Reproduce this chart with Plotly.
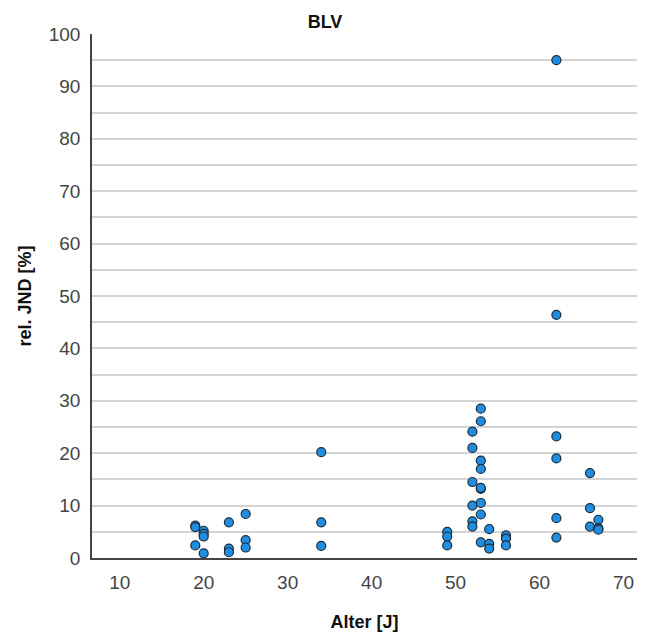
import plotly.graph_objects as go

# Age [years] and relative JND [%] per subject
alter = [19, 19, 19, 20, 20, 20, 20,
         23, 23, 23, 25, 25, 25,
         34, 34, 34,
         49, 49, 49,
         52, 52, 52, 52, 52, 52,
         53, 53, 53, 53, 53, 53, 53, 53, 53,
         54, 54, 54, 56, 56, 56,
         62, 62, 62, 62, 62, 62,
         66, 66, 66, 67, 67, 67]
rel_jnd = [6.2, 5.9, 2.4, 5.2, 4.6, 4.1, 0.9,
           6.8, 1.8, 1.1, 8.4, 3.4, 2.0,
           20.2, 6.8, 2.3,
           5.0, 4.1, 2.4,
           24.1, 21.0, 14.5, 10.0, 7.0, 6.0,
           28.5, 26.1, 18.6, 17.0, 13.2, 10.5, 8.3, 3.0, 13.4,
           5.5, 2.7, 1.8, 4.3, 3.7, 2.4,
           95.0, 46.4, 23.2, 19.0, 7.6, 3.9,
           16.2, 9.5, 6.0, 7.3, 5.7, 5.4]

x_ticks = [10, 20, 30, 40, 50, 60, 70]
y_ticks = [0, 10, 20, 30, 40, 50, 60, 70, 80, 90, 100]

fig = go.Figure(go.Scatter(
    x=alter, y=rel_jnd, mode="markers",
    marker=dict(size=9, color="#1f8de0",
                line=dict(color="#1c2b3a", width=1.2)),
    cliponaxis=False,
))

fig.update_layout(
    width=650, height=635,
    margin=dict(l=92, r=13, t=34, b=77),
    paper_bgcolor="white", plot_bgcolor="white",
    showlegend=False,
    font=dict(family="Liberation Sans, Arial, sans-serif", color="#333333"),
    title=dict(text="<b>BLV</b>", x=0.5, xanchor="center", y=0.975,
               yanchor="top", font=dict(size=18, color="#111111")),
    xaxis=dict(
        range=[6.7, 71.6], tickvals=x_ticks, showgrid=False,
        zeroline=False, showline=True, linecolor="#444444", linewidth=1.5,
        ticks="", ticklabelstandoff=6, automargin=False,
        tickfont=dict(size=19, color="#444444"),
        title=dict(text="<b>Alter [J]</b>", standoff=24,
                   font=dict(size=18, color="#111111")),
    ),
    yaxis=dict(
        range=[0, 100], tickvals=y_ticks, showgrid=True,
        gridcolor="#d4d4d4", gridwidth=1.5,
        minor=dict(dtick=5, tick0=0, showgrid=True,
                   gridcolor="#d4d4d4", gridwidth=1.5),
        zeroline=False, showline=True, linecolor="#444444", linewidth=1.5,
        ticks="", ticklabelstandoff=6, automargin=False,
        tickfont=dict(size=19, color="#444444"),
        title=dict(text="<b>rel. JND [%]</b>", standoff=12,
                   font=dict(size=18, color="#111111")),
    ),
)

fig.write_html("out.html")
